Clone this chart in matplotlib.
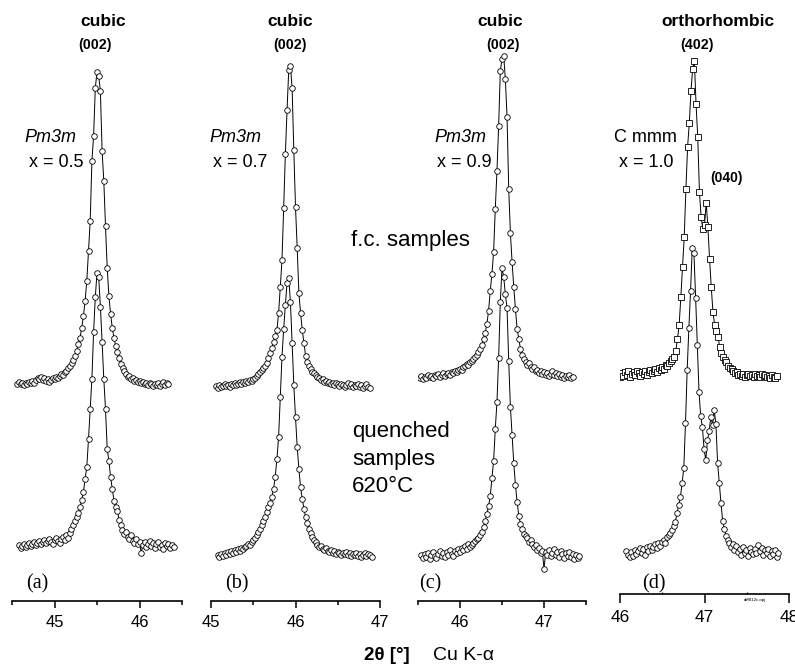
import matplotlib.pyplot as plt
import numpy as np

plt.rcParams["font.family"] = ["Liberation Sans", "DejaVu Sans"]

W, H = 795, 664
STEP = 0.02  # scan step in 2theta (deg)

# ---- DATA: intensities (a.u.), step 0.02 deg -----------------------------

# (a) x = 0.5
a_fc_start = 44.56
a_fc = [2, 4, 2, 3, 1, 3, 2, 4, 3, 5, 3, 6, 8, 7, 9, 6, 8, 5, 7, 4,
        6, 8, 7, 9, 8, 10, 12, 11, 14, 15, 18, 20, 23, 26, 30, 35, 42, 48, 58, 70,
        85, 105, 135, 165, 225, 250, 298, 314, 310, 295, 235, 205, 160, 118, 90, 72, 58, 48, 40, 34,
        28, 22, 18, 15, 12, 9, 10, 7, 8, 5, 6, 4, 5, 3, 4, 2, 3, 1, 3, 2,
        0, 2, 1, 3, 0, 2, 4, 1, 3, 2]
a_q_start = 44.58
a_q = [2, -1, 1, 3, 0, 2, 4, 1, 3, 5, 2, 4, 6, 3, 5, 7, 4, 6, 8, 5,
       3, 7, 9, 6, 4, 8, 10, 7, 12, 9, 14, 18, 22, 26, 30, 34, 40, 47, 55, 68,
       80, 108, 138, 168, 215, 250, 274, 270, 240, 205, 168, 138, 98, 86, 70, 58, 46, 40, 36, 27,
       22, 17, 13, 15, 10, 8, 12, 6, 4, 8, 3, 5, -6, 2, 5, 0, 3, 6, 1, 4,
       -1, 3, 5, 0, 2, -2, 4, 1, 3, -1, 2, 0]

# (b) x = 0.7
b_fc_start = 45.06
b_fc = [2, 0, 3, 1, 2, 4, 2, 3, 1, 4, 3, 5, 3, 4, 6, 4, 6, 5, 7, 6,
        8, 7, 9, 10, 12, 14, 16, 18, 20, 22, 25, 30, 35, 40, 46, 52, 58, 75, 101, 128,
        180, 234, 278, 318, 322, 300, 238, 181, 140, 95, 75, 58, 45, 32, 26, 22, 19, 16, 15, 13,
        11, 10, 8, 9, 6, 7, 5, 6, 4, 5, 3, 5, 4, 2, 4, 3, 1, 3, 5, 2,
        4, 1, 3, 2, 4, 1, 3, 0, 2, 4, 1, 0]
b_q_start = 45.08
b_q = [2, 0, 3, 1, 4, 2, 5, 3, 6, 4, 7, 5, 8, 6, 9, 8, 10, 11, 13, 12,
       15, 17, 19, 22, 25, 28, 32, 36, 40, 45, 50, 54, 60, 68, 80, 98, 120, 160, 200, 228,
       252, 274, 279, 255, 214, 172, 140, 110, 88, 70, 58, 48, 40, 34, 28, 24, 20, 17, 15, 12,
       10, 11, 8, 7, 9, 6, 5, 7, 4, 6, 3, 5, 4, 2, 4, 3, 5, 2, 4, 1,
       3, 2, 4, 1, 3, 0, 2, 4, 1, 3, 2, 0]

# (c) x = 0.9
c_fc_start = 45.52
c_fc = [1, 3, 0, 2, 1, 4, 2, 3, 1, 4, 3, 5, 2, 4, 6, 3, 5, 6, 4, 7,
        6, 8, 7, 9, 10, 9, 12, 13, 15, 14, 17, 18, 20, 22, 24, 27, 30, 34, 40, 46,
        55, 68, 88, 105, 127, 170, 208, 253, 308, 320, 323, 300, 262, 190, 146, 117, 92, 70, 50, 40,
        30, 24, 20, 17, 14, 16, 12, 10, 12, 8, 9, 6, 8, 5, 7, 4, 6, 3, 5, 8,
        4, 6, 3, 5, 2, 4, 1, 3, 2, 4, 1, 2]
c_q_start = 45.54
c_q = [3, 0, 4, 1, 5, -1, 3, 6, 2, 0, 4, 7, 2, 5, 1, 6, 3, 8, 4, 2,
       7, 5, 9, 6, 10, 8, 12, 9, 14, 11, 13, 15, 17, 19, 20, 23, 26, 31, 37, 44,
       52, 62, 80, 97, 129, 156, 200, 256, 290, 281, 264, 250, 197, 151, 123, 95, 73, 56, 42, 34,
       29, 24, 22, 20, 16, 18, 14, 11, 13, 8, 10, 5, 7, -11, 6, 3, 8, 2, 5, 9,
       3, 6, 1, 7, 4, 0, 5, 2, 6, 1, 4, -1, 3, 0, 2]

# (d) x = 1.0
d_fc_start = 45.98
d_fc = [3, 0, 4, 1, 5, 2, 6, 0, 3, 5, 2, 6, 4, 1, 5, 3, 6, 2, 5, 7,
        4, 6, 8, 5, 9, 7, 10, 8, 12, 11, 14, 16, 18, 20, 26, 38, 52, 80, 110, 140,
        188, 230, 254, 286, 308, 316, 273, 240, 185, 160, 148, 152, 174, 150, 118, 90, 65, 52, 46, 40,
        30, 24, 20, 17, 15, 11, 9, 8, 6, 4, 5, 2, 3, 1, 3, 0, 2, 3, 1, 2,
        0, 3, 1, 2, 0, 3, 1, 2, 0, 1, -1, 2, 0, -1, 1]
d_q_start = 46.075
d_q = [2, -2, -4, 1, -3, 3, -1, 2, 5, 0, 4, -2, 6, 2, 7, 3, 6, 9, 5, 10,
       7, 11, 13, 10, 16, 18, 20, 23, 27, 31, 40, 48, 56, 70, 85, 130, 183, 225, 262, 305,
       300, 255, 208, 161, 137, 126, 104, 93, 113, 122, 136, 128, 143, 129, 90, 70, 50, 32, 24, 17,
       13, 10, 6, 9, 3, 7, 1, 4, -2, 6, 0, 3, -3, 5, 1, -1, 4, 0, 8, 2,
       5, -2, 3, 0, 4, -3, 2, -1, 3, -4, 0]

ticks_a = [45, 46]
ticks_b = [45, 46, 47]
ticks_c = [46, 47]
ticks_d = [46, 47, 48]


def px_text(x, y, s, **kw):
    kw.setdefault("va", "center")
    plt.figtext(x / W, 1 - y / H, s, **kw)


def scan(start, values):
    return start + STEP * np.arange(len(values))


fig = plt.figure(figsize=(W / 100, H / 100), dpi=100)

# panel: (left px, right px, axis line px, xlim, ticks, fc data, q data, fc baseline px, q baseline px, fc marker)
panels = [
    (12, 182, 601, (44.5, 46.5), ticks_a, (a_fc_start, a_fc), (a_q_start, a_q), 386, 547, "o"),
    (211, 380, 601, (45.0, 47.0), ticks_b, (b_fc_start, b_fc), (b_q_start, b_q), 388, 557, "o"),
    (418, 586, 601, (45.5, 47.5), ticks_c, (c_fc_start, c_fc), (c_q_start, c_q), 379, 558, "o"),
    (620, 789, 594, (46.0, 48.0), ticks_d, (d_fc_start, d_fc), (d_q_start, d_q), 377, 553, "s"),
]

for i, (x0, x1, yb, xlim, ticks, fc, q, base_fc, base_q, mk) in enumerate(panels):
    ax = fig.add_axes([x0 / W, 1 - yb / H, (x1 - x0) / W, yb / H])
    ax.patch.set_visible(False)
    for (start, vals), base, m in [(fc, base_fc, mk), (q, base_q, "o")]:
        ms = 3.8 if m == "s" else 4.0
        ax.plot(scan(start, vals), np.array(vals) + (yb - base), color="black", lw=0.7,
                marker=m, ms=ms, mfc="white", mec="black", mew=0.6)
    ax.set_xlim(*xlim)
    ax.set_ylim(0, yb)
    ax.set_yticks([])
    for s in ["left", "right", "top"]:
        ax.spines[s].set_visible(False)
    ax.spines["bottom"].set_linewidth(1.2)
    ax.set_xticks(ticks)
    ax.set_xticks(np.arange(xlim[0], xlim[1] + 0.01, 0.5), minor=True)
    if i < 3:
        ax.tick_params(axis="x", which="major", direction="out", length=5, width=1.1,
                       labelsize=12, pad=5)
        ax.tick_params(axis="x", which="minor", direction="out", length=3, width=1.1)
    else:
        ax.tick_params(axis="x", which="major", direction="out", length=6.5, width=1.1,
                       labelsize=12.5, pad=5)
        ax.tick_params(axis="x", which="minor", direction="in", length=1.5, width=0.8)

# ---- TEXT -----------------------------------------------------------------
for xc, s in [(103, "cubic"), (290, "cubic"), (500, "cubic"), (718, "orthorhombic")]:
    px_text(xc, 22, s, ha="center", fontsize=12.5, fontweight="bold")
for xc, s in [(95, "(002)"), (290, "(002)"), (503, "(002)"), (697, "(402)")]:
    px_text(xc, 45, s, ha="center", fontsize=10.3, fontweight="bold")

for xl, s in [(24, "Pm3m"), (209, "Pm3m"), (434, "Pm3m")]:
    px_text(xl, 137, s, ha="left", fontsize=13, style="italic")
px_text(614, 137, "C mmm", ha="left", fontsize=13)
for xl, s in [(29, "x = 0.5"), (213, "x = 0.7"), (437, "x = 0.9"), (619, "x = 1.0")]:
    px_text(xl, 163, s, ha="left", fontsize=13)
px_text(710, 178, "(040)", ha="left", fontsize=10, fontweight="bold")

px_text(351, 240, "f.c. samples", ha="left", fontsize=16)
px_text(352, 432, "quenched", ha="left", fontsize=16)
px_text(352, 459, "samples", ha="left", fontsize=16)
px_text(352, 486, "620°C", ha="left", fontsize=16)

for xc, s in [(37, "(a)"), (237, "(b)"), (430, "(c)"), (654, "(d)")]:
    px_text(xc, 584, s, ha="center", fontsize=14.5, family="Liberation Serif")

px_text(755, 600, "diff812c.opj", ha="center", fontsize=3.2)

px_text(410, 655, "2θ [°]", ha="right", fontsize=13.5, fontweight="bold")
px_text(433, 655, "Cu K-α", ha="left", fontsize=14)

fig.savefig("out.png", dpi=100)
